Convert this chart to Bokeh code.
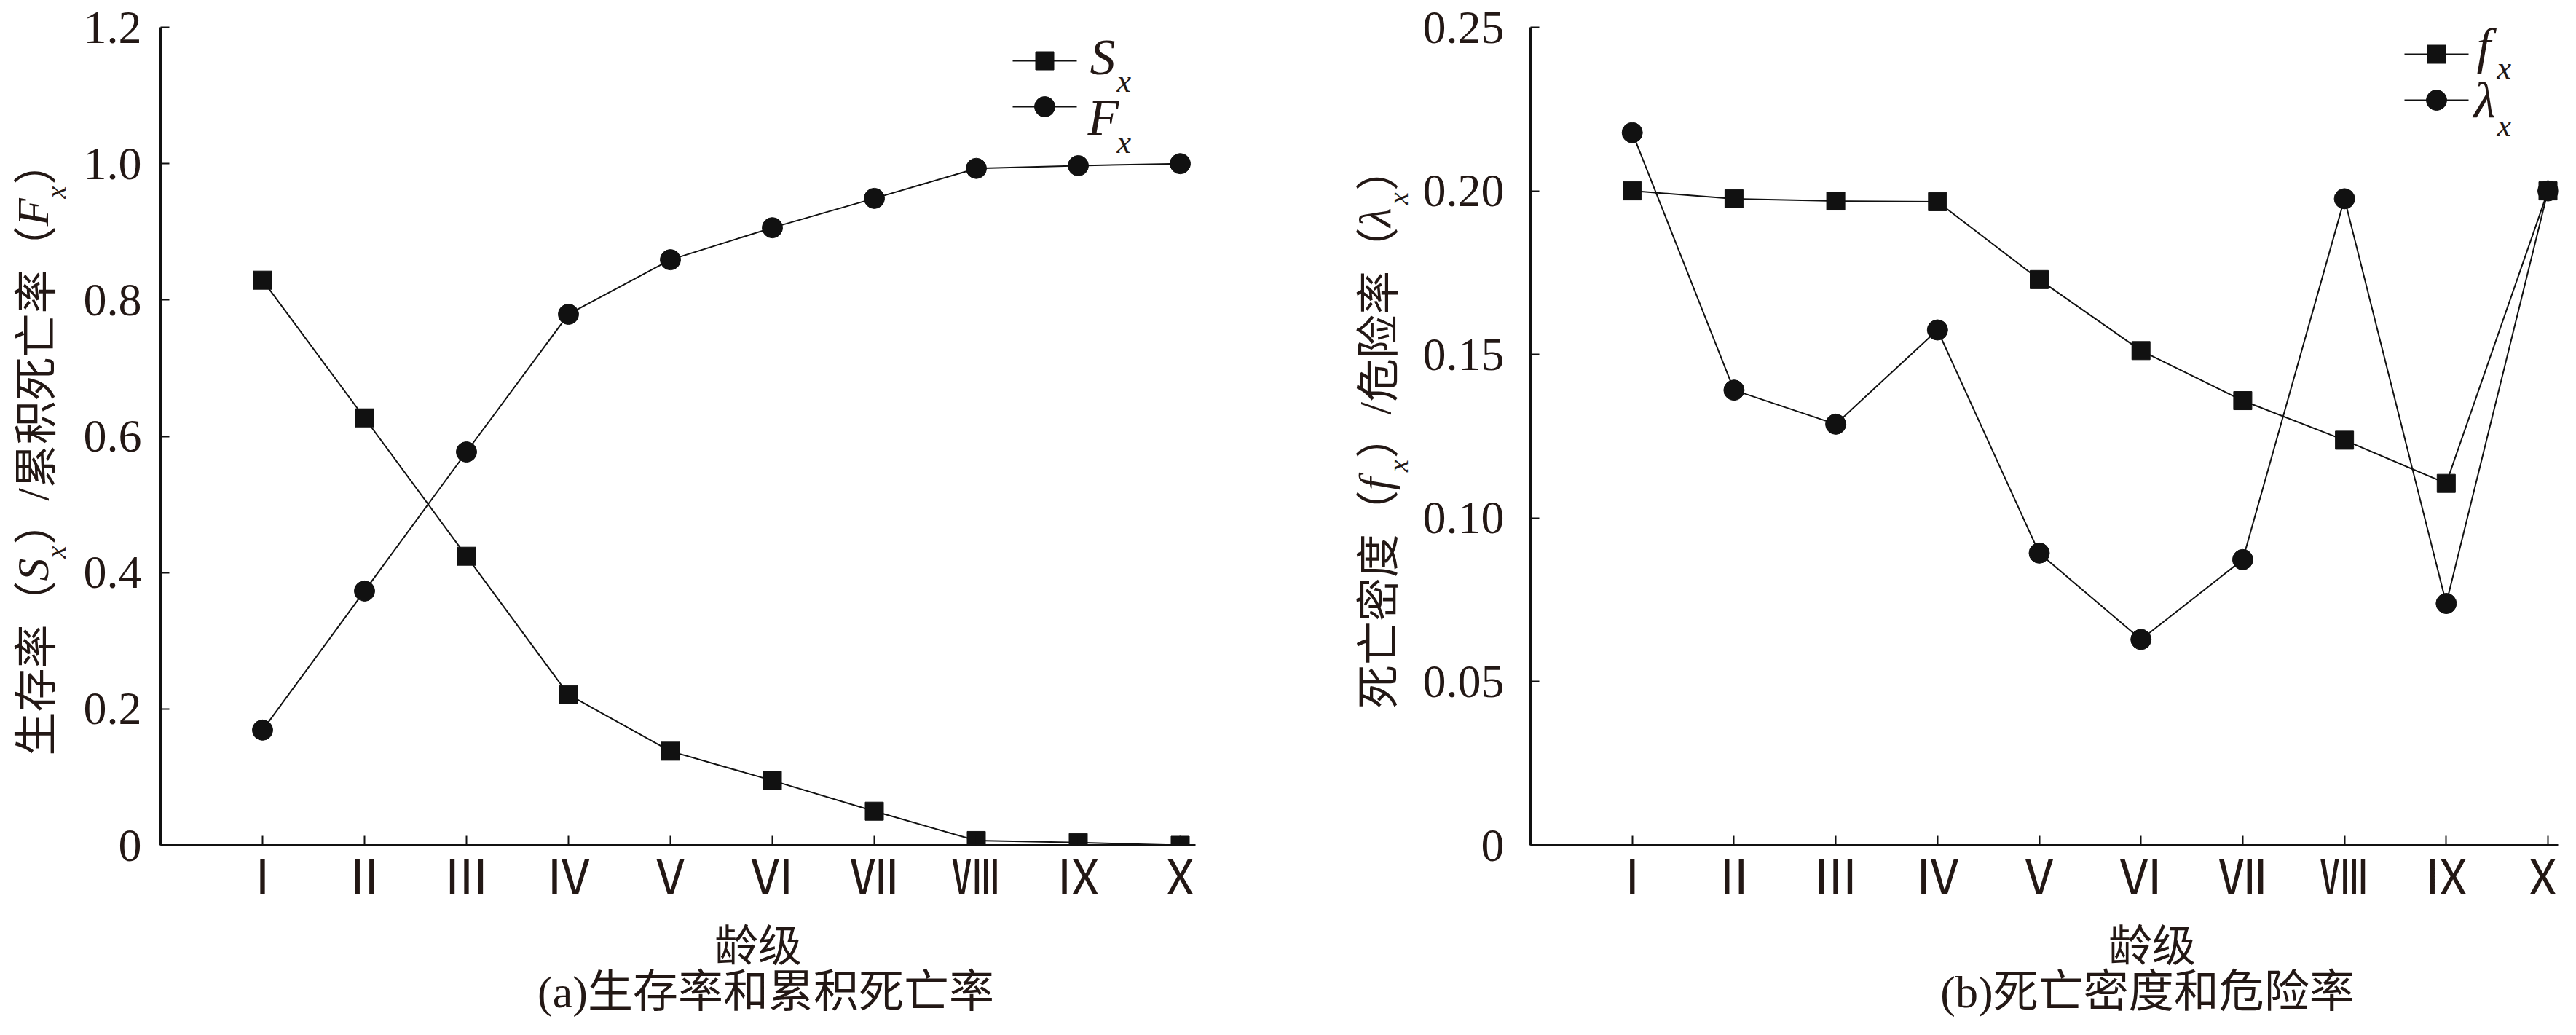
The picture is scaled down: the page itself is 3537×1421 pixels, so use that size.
import math
from bokeh.plotting import figure
from bokeh.models import Range1d, Label, FixedTicker
from bokeh.layouts import row, column
from bokeh.embed import file_html
from bokeh.resources import INLINE

# ---------------- data ----------------
age_pos = [1, 2, 3, 4, 5, 6, 7, 8, 9, 10]
age_labels = ["Ⅰ", "Ⅱ", "Ⅲ", "Ⅳ", "Ⅴ", "Ⅵ", "Ⅶ", "Ⅷ", "Ⅸ", "Ⅹ"]

S_x = [0.829, 0.627, 0.424, 0.221, 0.138, 0.095, 0.050, 0.007, 0.004, 0.000]
F_x = [0.169, 0.373, 0.577, 0.779, 0.859, 0.906, 0.949, 0.993, 0.997, 1.000]

f_x = [0.2000, 0.1976, 0.1969, 0.1967, 0.1729, 0.1512, 0.1359, 0.1238, 0.1106, 0.2000]
lam_x = [0.2178, 0.1391, 0.1287, 0.1575, 0.0893, 0.0629, 0.0873, 0.1976, 0.0739, 0.2000]

left_ticks = [0, 0.2, 0.4, 0.6, 0.8, 1.0, 1.2]
left_tick_labels = ["0", "0.2", "0.4", "0.6", "0.8", "1.0", "1.2"]
right_ticks = [0, 0.05, 0.10, 0.15, 0.20, 0.25]
right_tick_labels = ["0", "0.05", "0.10", "0.15", "0.20", "0.25"]

x_label = "龄级"
caption_a = "(a)生存率和累积死亡率"
caption_b = "(b)死亡密度和危险率"

# ---------------- style / layout ----------------
TXT = "#231815"
INK = "#111111"
SERIF = "Liberation Serif"
CJK = "Noto Sans CJK SC"
MIXED = "Liberation Serif, Noto Sans CJK SC"
TOTAL_H = 1405
TOP = 37
FH = 1160 - TOP
BOT = 88
PLOT_H = TOP + FH + BOT
CAP_H = TOTAL_H - PLOT_H


def make_panel(fw, xend, yend, yticks, ytick_labels, bl, br, ystandoff):
    p = figure(frame_width=fw, frame_height=FH,
               x_range=Range1d(0, xend), y_range=Range1d(0, yend),
               output_backend="svg", toolbar_location=None,
               min_border_left=bl, min_border_right=br,
               min_border_top=TOP, min_border_bottom=BOT)
    p.outline_line_color = None
    p.grid.visible = False
    p.background_fill_color = "white"
    p.border_fill_color = "white"

    xa = p.xaxis[0]
    xa.ticker = FixedTicker(ticks=age_pos)
    xa.major_label_overrides = {k: v for k, v in zip(age_pos, age_labels)}
    xa.minor_tick_line_color = None
    xa.major_tick_in = 13
    xa.major_tick_out = 0
    xa.axis_line_width = 3
    xa.major_tick_line_width = 2
    xa.axis_line_color = INK
    xa.major_tick_line_color = INK
    xa.major_label_text_font = CJK
    xa.major_label_text_font_size = "66px"
    xa.major_label_text_color = TXT
    xa.major_label_standoff = -10

    ya = p.yaxis[0]
    ya.ticker = FixedTicker(ticks=yticks)
    ya.major_label_overrides = {k: v for k, v in zip(yticks, ytick_labels)}
    ya.minor_tick_line_color = None
    ya.major_tick_in = 12
    ya.major_tick_out = 0
    ya.axis_line_width = 3
    ya.major_tick_line_width = 2
    ya.axis_line_color = INK
    ya.major_tick_line_color = INK
    ya.major_label_text_font = SERIF
    ya.major_label_text_font_size = "64px"
    ya.major_label_text_color = TXT
    ya.major_label_standoff = ystandoff
    return p


def blank(w, h):
    p = figure(width=w, height=h, x_range=Range1d(0, 1), y_range=Range1d(0, 1),
               output_backend="svg", toolbar_location=None, min_border=0,
               x_axis_type=None, y_axis_type=None)
    p.outline_line_color = None
    p.background_fill_color = "white"
    p.border_fill_color = "white"
    return p


def px_to_data(p, fw, px, py):
    xr, yr = p.x_range, p.y_range
    dx = xr.start + px / fw * (xr.end - xr.start)
    dy = yr.end - py / FH * (yr.end - yr.start)
    return dx, dy


def series(p, ys, marker, size):
    p.line(age_pos, ys, line_color=INK, line_width=2)
    p.scatter(age_pos, ys, marker=marker, size=size, fill_color=INK, line_color=INK)


def legend_row(p, fw, x0, x1, y, marker, size):
    a0, b = px_to_data(p, fw, x0, y)
    a1, _ = px_to_data(p, fw, x1, y)
    am, _ = px_to_data(p, fw, (x0 + x1) / 2, y)
    p.line([a0, a1], [b, b], line_color=INK, line_width=2)
    p.scatter([am], [b], marker=marker, size=size, fill_color=INK, line_color=INK)


def lab(p, x, y, text, font, size, style="normal", align="left",
        baseline="middle", angle=0.0):
    p.add_layout(Label(x=x, y=y, x_units="screen", y_units="screen", text=text,
                       text_font=font, text_font_size=f"{size}px",
                       text_font_style=style, text_color=TXT,
                       text_align=align, text_baseline=baseline, angle=angle))


def vertical_label(p, sx, sy_center, segs):
    total = sum(s[4] for s in segs)
    pos = sy_center - total / 2
    for text, font, size, style, adv, dx in segs:
        lab(p, sx + dx, pos, text, font, size, style=style, angle=math.pi / 2)
        pos += adv


C = 60
I = 62
SUB = 38
XL_Y = CAP_H - (1292 - PLOT_H)   # centre of the x-axis title, from cap bottom
CAP_Y = 45                        # centre of the caption, from cap bottom

# ---------------- panel (a) ----------------
LAB_A_W = 110
FW_A = 1421
BL_A = 110
BR_A = 199
pa = make_panel(FW_A, 10.15, 1.2, left_ticks, left_tick_labels, BL_A, BR_A, 26)
series(pa, S_x, "square", 25)
series(pa, F_x, "circle", 28)
legend_row(pa, FW_A, 1170, 1258, 83 - TOP, "square", 25)
legend_row(pa, FW_A, 1170, 1258, 146 - TOP, "circle", 28)
lab(pa, 1276, 1082, "S", SERIF, 70, "italic")
lab(pa, 1313, 1049, "x", SERIF, 44, "italic")
lab(pa, 1273, 999, "F", SERIF, 70, "italic")
lab(pa, 1313, 965, "x", SERIF, 44, "italic")

WA = BL_A + FW_A + BR_A
cap_a = blank(WA, CAP_H)
lab(cap_a, BL_A + FW_A / 2, XL_Y, x_label, CJK, 60, align="center")
lab(cap_a, BL_A + 721, CAP_Y, caption_a, MIXED, 62, align="center")

ylab_a = blank(LAB_A_W, TOTAL_H)
vertical_label(ylab_a, 44, TOTAL_H - 615, [
    ("生存率", CJK, C, "normal", 3 * C, 0),
    ("（", CJK, C, "normal", C, 0),
    ("S", SERIF, I, "italic", 0.5 * I, 0),
    ("x", SERIF, SUB, "italic", 0.444 * SUB + 2, 32),
    ("）", CJK, C, "normal", C, 0),
    ("/", SERIF, I, "normal", 0.278 * I, 0),
    ("累积死亡率", CJK, C, "normal", 5 * C, 0),
    ("（", CJK, C, "normal", C, 0),
    ("F", SERIF, I, "italic", 0.611 * I, 0),
    ("x", SERIF, SUB, "italic", 0.444 * SUB + 2, 32),
    ("）", CJK, C, "normal", C, 0),
])

# ---------------- panel (b) ----------------
LAB_B_W = 110
FW_B = 1411
BL_B = 148
BR_B = 12
pb = make_panel(FW_B, 10.1, 0.25, right_ticks, right_tick_labels, BL_B, BR_B, 36)
series(pb, f_x, "square", 25)
series(pb, lam_x, "circle", 28)
legend_row(pb, FW_B, 1200, 1288, 74 - TOP, "square", 25)
legend_row(pb, FW_B, 1200, 1288, 137 - TOP, "circle", 28)
lab(pb, 1299, 1097, "f", SERIF, 70, "italic")
lab(pb, 1327, 1067, "x", SERIF, 44, "italic")
lab(pb, 1295, 1023, "λ", SERIF, 70, "italic")
lab(pb, 1327, 988, "x", SERIF, 44, "italic")

WB = BL_B + FW_B + BR_B
cap_b = blank(WB, CAP_H)
lab(cap_b, BL_B + FW_B / 2, XL_Y, x_label, CJK, 60, align="center")
lab(cap_b, BL_B + 699, CAP_Y, caption_b, MIXED, 62, align="center")

ylab_b = blank(LAB_B_W, TOTAL_H)
vertical_label(ylab_b, 47, TOTAL_H - 587, [
    ("死亡密度", CJK, C, "normal", 4 * C, 0),
    ("（", CJK, C, "normal", C, 0),
    ("f", SERIF, I, "italic", 0.4 * I, 0),
    ("x", SERIF, SUB, "italic", 0.444 * SUB + 2, 32),
    ("）", CJK, C, "normal", C, 0),
    ("/", SERIF, I, "normal", 0.278 * I, 0),
    ("危险率", CJK, C, "normal", 3 * C, 0),
    ("（", CJK, C, "normal", C, 0),
    ("λ", SERIF, I, "italic", 0.5 * I, 0),
    ("x", SERIF, SUB, "italic", 0.444 * SUB + 2, 32),
    ("）", CJK, C, "normal", C, 0),
])

layout = row(ylab_a, column(pa, cap_a), ylab_b, column(pb, cap_b))
open("out.html", "w").write(file_html(layout, INLINE))
